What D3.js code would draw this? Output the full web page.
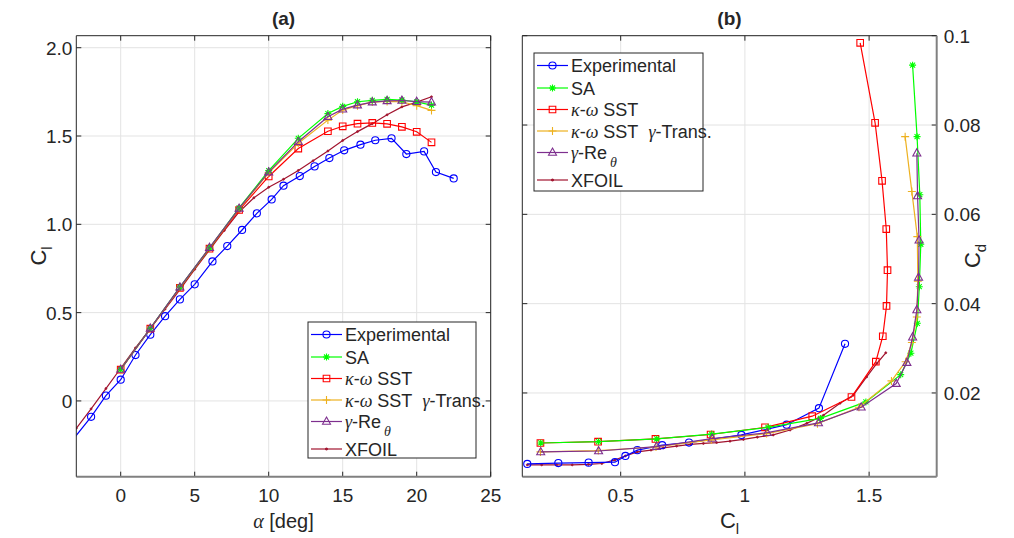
<!DOCTYPE html>
<html><head><meta charset="utf-8">
<script src="https://cdn.jsdelivr.net/npm/d3@7"></script>
<style>body{margin:0;background:#fff}svg{display:block}text{font-family:"Liberation Sans",Arial,sans-serif;fill:#262626}</style>
</head><body><svg id="c" width="1014" height="538"></svg>
<script>
// ---------- Panel (a): Cl vs alpha ----------
const alphaExp = [-4, -2, -1, 0, 1, 2, 3, 4, 5, 6.2, 7.2, 8.2, 9.2, 10.2, 11, 12.1, 13.1, 14.1, 15.1, 16.2, 17.2, 18.3, 19.3, 20.5, 21.3, 22.5];
const clExp = [-0.30, -0.09, 0.03, 0.12, 0.26, 0.375, 0.48, 0.575, 0.66, 0.79, 0.877, 0.968, 1.062, 1.141, 1.219, 1.273, 1.328, 1.375, 1.419, 1.451, 1.476, 1.487, 1.398, 1.413, 1.296, 1.26];
const alphaCFD = [0, 2, 4, 6, 8, 10, 12, 14, 15, 16, 17, 18, 19, 20, 21];
const clSA = [0.178, 0.411, 0.645, 0.866, 1.093, 1.304, 1.487, 1.627, 1.668, 1.694, 1.702, 1.708, 1.704, 1.693, 1.675];
const clSST = [0.177, 0.409, 0.64, 0.862, 1.081, 1.271, 1.429, 1.527, 1.555, 1.57, 1.574, 1.569, 1.552, 1.524, 1.464];
const clSSTg = [0.177, 0.41, 0.642, 0.865, 1.087, 1.292, 1.459, 1.59, 1.647, 1.672, 1.692, 1.696, 1.694, 1.672, 1.645];
const clGRe = [0.178, 0.411, 0.644, 0.868, 1.09, 1.296, 1.468, 1.609, 1.652, 1.675, 1.692, 1.699, 1.701, 1.695, 1.692];
const alphaXF = [-3, -2, -1, 0, 1, 2, 3, 4, 5, 6, 7, 8, 9, 10, 11, 12, 13, 14, 15, 16, 17, 18, 19, 20, 21];
const clXF = [-0.155, -0.045, 0.07, 0.185, 0.3, 0.41, 0.52, 0.63, 0.745, 0.855, 0.965, 1.07, 1.15, 1.21, 1.255, 1.305, 1.36, 1.415, 1.475, 1.525, 1.57, 1.62, 1.665, 1.692, 1.722];

// ---------- Panel (b): Cd vs Cl ----------
const clExpB = [0.124, 0.249, 0.371, 0.477, 0.519, 0.567, 0.667, 0.775, 0.986, 1.168, 1.298, 1.403];
const cdExpB = [0.0041, 0.0043, 0.0044, 0.0045, 0.0059, 0.0072, 0.0083, 0.0089, 0.0106, 0.0129, 0.0166, 0.031];
const cdSA = [0.0088, 0.0091, 0.0097, 0.0108, 0.0123, 0.0143, 0.018, 0.0241, 0.0289, 0.0356, 0.0438, 0.0533, 0.0644, 0.0774, 0.0934];
const cdSST = [0.0088, 0.0091, 0.0097, 0.0107, 0.0123, 0.0148, 0.0191, 0.027, 0.0327, 0.0395, 0.0475, 0.0567, 0.0675, 0.0805, 0.0984];
const cdSSTg = [0.0068, 0.0071, 0.0079, 0.0095, 0.0109, 0.0131, 0.0168, 0.0227, 0.027, 0.0313, 0.037, 0.045, 0.055, 0.0651, 0.0774];
const cdGRe = [0.0068, 0.007, 0.008, 0.0098, 0.0111, 0.0133, 0.0168, 0.0221, 0.0268, 0.0325, 0.0386, 0.0459, 0.0542, 0.0641, 0.0737];
const clXFB = [0.124, 0.182, 0.242, 0.305, 0.37, 0.424, 0.477, 0.519, 0.567, 0.622, 0.672, 0.725, 0.782, 0.833, 0.886, 0.94, 0.994, 1.05, 1.114, 1.182, 1.249, 1.316, 1.383, 1.436, 1.49, 1.531, 1.567];
const cdXFB = [0.0039, 0.0039, 0.0039, 0.0039, 0.004, 0.0042, 0.005, 0.0059, 0.0068, 0.0072, 0.0077, 0.0081, 0.0085, 0.0087, 0.0089, 0.0092, 0.0096, 0.0101, 0.0106, 0.0117, 0.0132, 0.015, 0.0177, 0.0195, 0.0236, 0.0266, 0.029];

// ---------- Ticks ----------
const ticksAx = [0, 5, 10, 15, 20, 25];
const ticksAy = [0, 0.5, 1.0, 1.5, 2.0];
const tickLabelsAy = ["0", "0.5", "1.0", "1.5", "2.0"];
const ticksBx = [0.5, 1, 1.5];
const tickLabelsBx = ["0.5", "1", "1.5"];
const ticksBy = [0.02, 0.04, 0.06, 0.08, 0.1];
const tickLabelsBy = ["0.02", "0.04", "0.06", "0.08", "0.1"];

const seriesNames = ["Experimental", "SA", "κ-ω SST", "κ-ω SST γ-Trans.", "γ-Re θ", "XFOIL"];
const colors = ["#0000FF", "#00FF00", "#FF0000", "#EDB120", "#7E2F8E", "#A2142F"];
const markers = ["circle", "star", "square", "plus", "triangle", "dot"];

const svg = d3.select("#c");
const A = {l: 76.3, r: 490.7, t: 35.7, b: 476.7};
const B = {l: 522.3, r: 936.7, t: 35.7, b: 476.7};

const xA = d3.scaleLinear().domain([-3, 25]).range([A.l, A.r]);
const yA = d3.scaleLinear().domain([-0.429, 2.068]).range([A.b, A.t]);
const xB = d3.scaleLinear().domain([0.104, 1.772]).range([B.l, B.r]);
const yB = d3.scaleLinear().domain([0.00125, 0.1]).range([B.b, B.t]);

const defs = svg.append("defs");
[["clipA", A], ["clipB", B]].forEach(([id, P]) => {
  defs.append("clipPath").attr("id", id).append("rect")
    .attr("x", P.l).attr("y", P.t).attr("width", P.r - P.l).attr("height", P.b - P.t);
});

function markerPath(type) {
  switch (type) {
    case "circle": return d3.symbol(d3.symbolCircle, 40)();
    case "square": return "M-3.3,-3.3H3.3V3.3H-3.3Z";
    case "triangle": return "M0,-4.4L4,2.8H-4Z";
    case "plus": return "M-4,0H4M0,-4V4";
    case "star": return "M-3.5,0H3.5M0,-3.5V3.5M-2.5,-2.5L2.5,2.5M-2.5,2.5L2.5,-2.5";
    case "dot": return d3.symbol(d3.symbolCircle, 3)();
  }
}

function drawGrid(P, xs, ys, xt, yt) {
  const g = svg.append("g");
  xt.forEach(v => g.append("line").attr("x1", xs(v)).attr("x2", xs(v)).attr("y1", P.t).attr("y2", P.b)
    .attr("stroke", "#e3e3e3").attr("stroke-width", 1));
  yt.forEach(v => g.append("line").attr("y1", ys(v)).attr("y2", ys(v)).attr("x1", P.l).attr("x2", P.r)
    .attr("stroke", "#e3e3e3").attr("stroke-width", 1));
}

function drawSeries(P, clip, xs, ys, xd, yd, i) {
  const g = svg.append("g").attr("clip-path", `url(#${clip})`);
  const pts = xd.map((x, k) => [x, yd[k]]);
  const line = d3.line().x(d => xs(d[0])).y(d => ys(d[1]));
  g.append("path").datum(pts).attr("d", line).attr("fill", "none")
    .attr("stroke", colors[i]).attr("stroke-width", 1.2);
  const m = markers[i];
  g.selectAll(null).data(pts).enter().append("path")
    .attr("transform", d => `translate(${xs(d[0])},${ys(d[1])})`)
    .attr("d", markerPath(m))
    .attr("fill", m === "dot" ? colors[i] : "none")
    .attr("stroke", colors[i]).attr("stroke-width", m === "dot" ? 0.8 : 1.1);
}

function drawFrame(P, xs, ys, xt, yt, yRight) {
  const g = svg.append("g");
  const tl = 5;
  xt.forEach(v => {
    g.append("line").attr("x1", xs(v)).attr("x2", xs(v)).attr("y1", P.b).attr("y2", P.b - tl).attr("stroke", "#262626");
    g.append("line").attr("x1", xs(v)).attr("x2", xs(v)).attr("y1", P.t).attr("y2", P.t + tl).attr("stroke", "#262626");
  });
  yt.forEach(v => {
    g.append("line").attr("y1", ys(v)).attr("y2", ys(v)).attr("x1", P.l).attr("x2", P.l + tl).attr("stroke", "#262626");
    g.append("line").attr("y1", ys(v)).attr("y2", ys(v)).attr("x1", P.r).attr("x2", P.r - tl).attr("stroke", "#262626");
  });
  g.append("line").attr("x1", P.l).attr("x2", P.r).attr("y1", P.t).attr("y2", P.t).attr("stroke", "#262626");
  g.append("line").attr("x1", P.l).attr("x2", P.r).attr("y1", P.b).attr("y2", P.b).attr("stroke", "#808080").attr("stroke-width", 2);
  g.append("line").attr("x1", P.l).attr("x2", P.l).attr("y1", P.t).attr("y2", P.b)
    .attr("stroke", "#262626").attr("stroke-width", 1);
  g.append("line").attr("x1", P.r).attr("x2", P.r).attr("y1", P.t).attr("y2", P.b)
    .attr("stroke", yRight ? "#808080" : "#262626").attr("stroke-width", yRight ? 2 : 1);
}

// ---- Panel A ----
drawGrid(A, xA, yA, ticksAx, ticksAy);
const aX = [alphaExp, alphaCFD, alphaCFD, alphaCFD, alphaCFD, alphaXF];
const aY = [clExp, clSA, clSST, clSSTg, clGRe, clXF];
[5, 0, 2, 3, 1, 4].forEach(i => drawSeries(A, "clipA", xA, yA, aX[i], aY[i], i));
drawFrame(A, xA, yA, ticksAx, ticksAy, false);

// ---- Panel B ----
drawGrid(B, xB, yB, ticksBx, ticksBy);
const bX = [clExpB, clSA, clSST, clSSTg, clGRe, clXFB];
const bY = [cdExpB, cdSA, cdSST, cdSSTg, cdGRe, cdXFB];
[5, 0, 2, 1, 3, 4].forEach(i => drawSeries(B, "clipB", xB, yB, bX[i], bY[i], i));
drawFrame(B, xB, yB, ticksBx, ticksBy, true);

// ---- Tick labels ----
const fs = 19;
ticksAx.forEach(v => svg.append("text").attr("x", xA(v)).attr("y", A.b + 25).attr("text-anchor", "middle").attr("font-size", fs).text(v));
ticksAy.forEach((v, k) => svg.append("text").attr("x", A.l - 4).attr("y", yA(v) + 7).attr("text-anchor", "end").attr("font-size", fs).text(tickLabelsAy[k]));
ticksBx.forEach((v, k) => svg.append("text").attr("x", xB(v)).attr("y", B.b + 25).attr("text-anchor", "middle").attr("font-size", fs).text(tickLabelsBx[k]));
ticksBy.forEach((v, k) => svg.append("text").attr("x", B.r + 7).attr("y", yB(v) + 7).attr("text-anchor", "start").attr("font-size", fs).text(tickLabelsBy[k]));

// ---- Titles ----
svg.append("text").attr("x", (A.l + A.r) / 2).attr("y", 25).attr("text-anchor", "middle").attr("font-size", 19).attr("font-weight", "bold").text("(a)");
svg.append("text").attr("x", (B.l + B.r) / 2).attr("y", 25).attr("text-anchor", "middle").attr("font-size", 19).attr("font-weight", "bold").text("(b)");

// ---- Axis labels ----
const xlA = svg.append("text").attr("x", (A.l + A.r) / 2).attr("y", 528).attr("text-anchor", "middle").attr("font-size", 20);
xlA.append("tspan").attr("font-family", "Liberation Serif").attr("font-style", "italic").text("α");
xlA.append("tspan").text(" [deg]");

function clLabel(sel, main, sub) {
  sel.append("tspan").text(main);
  sel.append("tspan").attr("font-size", 15).attr("dy", 6).text(sub);
}
clLabel(svg.append("text").attr("x", (B.l + B.r) / 2).attr("y", 528).attr("text-anchor", "middle").attr("font-size", 22), "C", "l");
clLabel(svg.append("text").attr("transform", "translate(46,256) rotate(-90)").attr("text-anchor", "middle").attr("font-size", 22), "C", "l");
clLabel(svg.append("text").attr("transform", "translate(980,256) rotate(-90)").attr("text-anchor", "middle").attr("font-size", 22), "C", "d");

// ---- Legends ----
function legend(x0, y0, w, h) {
  const g = svg.append("g");
  g.append("rect").attr("x", x0).attr("y", y0).attr("width", w).attr("height", h)
    .attr("fill", "#fff").attr("stroke", "#262626").attr("stroke-width", 1);
  const offs = [12.5, 35, 56.5, 78, 99.5, 127];
  seriesNames.forEach((name, i) => {
    const y = y0 + offs[i];
    g.append("line").attr("x1", x0 + 3).attr("x2", x0 + 34).attr("y1", y).attr("y2", y)
      .attr("stroke", colors[i]).attr("stroke-width", 1.2);
    const m = markers[i];
    g.append("path").attr("transform", `translate(${x0 + 18.5},${y})`).attr("d", markerPath(m))
      .attr("fill", m === "dot" ? colors[i] : "none").attr("stroke", colors[i]).attr("stroke-width", 1.1);
    const t = g.append("text").attr("x", x0 + 37).attr("y", y + 6.5).attr("font-size", 18);
    const greek = s => t.append("tspan").attr("font-family", "Liberation Serif").attr("font-style", "italic").text(s);
    const plain = s => t.append("tspan").text(s);
    if (i === 2) { greek("κ"); plain("-"); greek("ω"); plain(" SST"); }
    else if (i === 3) { greek("κ"); plain("-"); greek("ω"); plain(" SST\u00A0\u00A0"); greek("γ"); plain("-Trans."); }
    else if (i === 4) { greek("γ"); plain("-Re"); t.append("tspan").attr("font-family", "Liberation Serif").attr("font-style", "italic").attr("font-size", 14).attr("dx", 3).attr("dy", 8).text("θ"); }
    else plain(name);
  });
}
legend(308, 322, 168, 136);
legend(534, 53, 169, 138);
</script></body></html>
